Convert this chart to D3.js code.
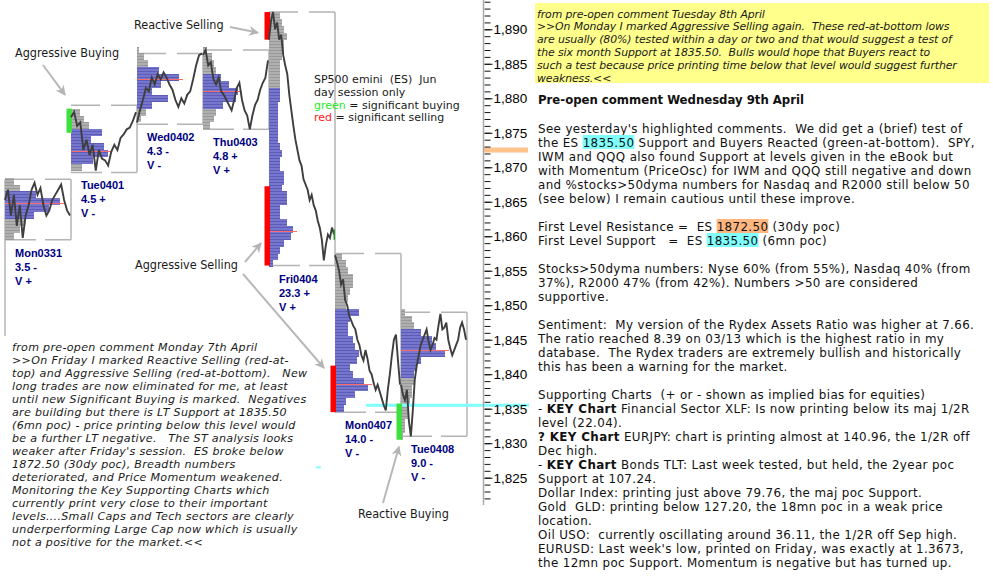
<!DOCTYPE html>
<html><head><meta charset="utf-8">
<script src="https://cdn.jsdelivr.net/npm/d3@7"></script>
<style>
body{margin:0;background:#fff;}
svg{display:block;}
text{white-space:pre;}
.ann{font-family:"DejaVu Sans Condensed","DejaVu Sans",sans-serif;font-stretch:condensed;font-size:12.5px;fill:#1a1a1a;}
.leg{font-family:"DejaVu Sans",sans-serif;font-size:11px;fill:#1a1a1a;}
.bodyt{font-family:"DejaVu Sans",sans-serif;font-size:11.9px;letter-spacing:0.36px;fill:#111;}
.ital{font-family:"DejaVu Sans",sans-serif;font-style:italic;font-size:11.1px;letter-spacing:0.3px;fill:#1a1a1a;}
.yel{font-family:"DejaVu Sans",sans-serif;font-style:italic;font-size:10.9px;letter-spacing:-0.1px;fill:#1a1a1a;}
.head{font-family:"DejaVu Sans Condensed","DejaVu Sans",sans-serif;font-stretch:condensed;font-weight:bold;font-size:13px;fill:#111;}
.dayl{font-family:"Liberation Sans",Arial,sans-serif;font-weight:bold;font-size:11px;fill:#000080;}
.axis text{font-family:"Liberation Sans",Arial,sans-serif;font-size:13.5px;fill:#000;}
</style></head><body>
<svg id="c" width="993" height="588"></svg>
<script>
// ---------------- DATA ----------------
const days = ["Mon0331","Tue0401","Wed0402","Thu0403","Fri0404","Mon0407","Tue0408"];
const rangeStat = ["3.5 -","4.5 +","4.3 -","4.8 +","23.3 +","14.0 -","9.0 -"];
const volStat = ["V +","V -","V -","V +","V +","V -","V -"];
const dayHigh = [1868.25, 1879.0, 1886.5, 1887.0, 1892.5, 1857.5, 1849.0];
const dayLow  = [1859.5, 1869.25, 1876.25, 1875.5, 1855.75, 1834.5, 1831.0];
const pocPrice = [1864.75, 1872.25, 1882.75, 1881.0, 1860.75, 1838.5, 1843.5];
const vaHigh = [1866, 1875, 1884, 1883, 1881, 1849, 1846];
const vaLow  = [1863, 1871, 1879, 1879, 1856, 1835, 1840];
// profile: TPO counts per 1-point level, from profileTop downwards
const profileTop = [1868, 1878, 1887, 1887, 1892, 1857, 1849];
const profileMon0331 = [4,7,14,25,20,13,9,7,4];
const profileTue0401 = [4,6,8,14,9,15,17,10,5];
const profileWed0402 = [1,3,5,10,19,11,7,14,7,4,2];
const profileThu0403 = [2,4,5,6,8,12,16,15,9,6,5,3];
const profileFri0404 = [5,6,7,8,7,7,6,5,5,5,5, 5,5,4,4,4,4,4,4,5,6,5,5,7,7,6,8,8,5,5,8,11,10,7,5,4,2];
const profileMon0407 = [3,5,6,8,8,7,6,5, 11,7,6,6,8,9,11,10,7,8,13,15,9,5,4];
const profileTue0408 = [2,5,6,9,14,16,20,9,7,6,6,5,5,4,3,3,2,2,1];
const profiles = [profileMon0331,profileTue0401,profileWed0402,profileThu0403,profileFri0404,profileMon0407,profileTue0408];
// intraday prices (day session)
const priceMon0331 = [1865.25,1866.75,1863,1866,1861.5,1864.5,1859.75,1863,1864.5,1866.75,1867.75,1866,1867,1864.5,1863,1863.75,1865.25,1866,1866.75,1867.5,1865.25,1863.75,1863];
const priceTue0401 = [1877.25,1878,1876,1876.5,1872.5,1874,1871.75,1873.25,1869.5,1872.5,1871.25,1871,1870.25,1872.25,1873.25,1872.5,1874.25,1874.75,1875.5,1875.75,1876.75,1878];
const priceWed0402 = [1876.5,1878.25,1879.75,1881.5,1881,1883,1882,1883.5,1882.75,1883.75,1883,1882,1881.25,1879.75,1878.75,1880,1879.25,1880.5,1881,1882.75,1884.75,1886.25,1886.5];
const priceThu0403 = [1886.25,1887,1884.75,1885.25,1882.75,1882,1883,1881,1880.5,1879.75,1879,1878.25,1879.75,1881.5,1882.25,1879.75,1878.25,1877.5,1875.5,1877.5,1879,1879.75,1881.25,1882.25,1883,1885.5];
const priceFri0404 = [1888.5,1891.25,1892.5,1890,1891,1888.5,1889.25,1886.25,1884.75,1883.5,1880.5,1878.25,1876,1874,1872.5,1871,1870.25,1868.25,1867.5,1866.75,1865.25,1866,1864.5,1863.75,1862.25,1861.25,1859.5,1856.5,1858.75,1860.25,1859.75,1861.25,1860.25];
const priceMon0407 = [1857.25,1856.25,1855,1853,1853.75,1850.75,1850,1848.5,1847.75,1847,1846.5,1845,1844.25,1842.75,1842,1843.5,1842.25,1840.5,1840,1838.75,1837.75,1838.5,1837.5,1836.5,1835.5,1834.75,1837.75,1840,1842.75,1845,1845.75,1842,1838.5];
const priceTue0408 = [1838.5,1837,1836.25,1837.75,1833.25,1831,1834.75,1839.25,1841.25,1842.75,1844.25,1845,1845.75,1846.5,1844.75,1843.5,1844.25,1845.25,1845,1847,1848.75,1846.5,1846.75,1847.5,1845,1843.75,1842.75,1843.5,1844.25,1845,1846.75,1847.5,1846.5,1845];
const prices = [priceMon0331,priceTue0401,priceWed0402,priceThu0403,priceFri0404,priceMon0407,priceTue0408];
// significant activity marks
const sigDay = [1, 4, 4, 5, 6];
const sigTop = [1878.5, 1892.5, 1867.25, 1841.25, 1835.75];
const sigBottom = [1875.0, 1888.5, 1855.75, 1834.5, 1830.5];
const sigType = ["buy","sell","sell","sell","buy"];
// levels
const resistanceLevel = 1872.5;
const supportLevel = 1835.5;
const yTicksMinor = d3.range(1822, 1895, 1);
const yTicksMajor = d3.range(1825, 1895, 5);

const legendLines = [[["SP500 emini  (ES)  Jun","#1a1a1a"]],[["day session only","#1a1a1a"]],[["green","#22ee22"],[" = significant buying","#1a1a1a"]],[["red","#ff2020"],[" = significant selling","#1a1a1a"]]];
const leftComment = ["from pre-open comment Monday 7th April",
">>On Friday I marked Reactive Selling (red-at-",
"top) and Aggressive Selling (red-at-bottom).   New",
"long trades are now eliminated for me, at least",
"until new Significant Buying is marked.  Negatives",
"are building but there is LT Support at 1835.50",
"(6mn poc) - price printing below this level would",
"be a further LT negative.   The ST analysis looks",
"weaker after Friday's session.  ES broke below",
"1872.50 (30dy poc), Breadth numbers",
"deteriorated, and Price Momentum weakened.",
"Monitoring the Key Supporting Charts which",
"currently print very close to their important",
"levels....Small Caps and Tech sectors are clearly",
"underperforming Large Cap now which is usually",
"not a positive for the market.<<"];
const yellowComment = ["from pre-open comment Tuesday 8th April",
">>On Monday I marked Aggressive Selling again.  These red-at-bottom lows",
"are usually (80%) tested within a day or two and that would suggest a test of",
"the six month Support at 1835.50.  Bulls would hope that Buyers react to",
"such a test because price printing time below that level would suggest further",
"weakness.<<"];
const heading = "Pre-open comment Wednesday 9th April";
const commentLines = [
 [["See yesterday's highlighted comments.  We did get a (brief) test of"]],
 [["the ES "],["1835.50","hc"],[" Support and Buyers Reacted (green-at-bottom).  SPY,"]],
 [["IWM and QQQ also found Support at levels given in the eBook but"]],
 [["with Momentum (PriceOsc) for IWM and QQQ still negative and down"]],
 [["and %stocks>50dyma numbers for Nasdaq and R2000 still below 50"]],
 [["(see below) I remain cautious until these improve."]],
 [],
 [["First Level Resistance =  ES "],["1872.50","ho"],[" (30dy poc)"]],
 [["First Level Support   =  ES "],["1835.50","hc"],[" (6mn poc)"]],
 [],
 [["Stocks>50dyma numbers: Nyse 60% (from 55%), Nasdaq 40% (from"]],
 [["37%), R2000 47% (from 42%). Numbers >50 are considered"]],
 [["supportive."]],
 [],
 [["Sentiment:  My version of the Rydex Assets Ratio was higher at 7.66."]],
 [["The ratio reached 8.39 on 03/13 which is the highest ratio in my"]],
 [["database.  The Rydex traders are extremely bullish and historically"]],
 [["this has been a warning for the market."]],
 [],
 [["Supporting Charts  (+ or - shown as implied bias for equities)"]],
 [["- "],["KEY Chart","b"],[" Financial Sector XLF: Is now printing below its maj 1/2R"]],
 [["level (22.04)."]],
 [["? KEY Chart","b"],[" EURJPY: chart is printing almost at 140.96, the 1/2R off"]],
 [["Dec high."]],
 [["- "],["KEY Chart","b"],[" Bonds TLT: Last week tested, but held, the 2year poc"]],
 [["Support at 107.24."]],
 [["Dollar Index: printing just above 79.76, the maj poc Support."]],
 [["Gold  GLD: printing below 127.20, the 18mn poc in a weak price"]],
 [["location."]],
 [["Oil USO:  currently oscillating around 36.11, the 1/2R off Sep high."]],
 [["EURUSD: Last week's low, printed on Friday, was exactly at 1.3673,"]],
 [["the 12mn poc Support. Momentum is negative but has turned up."]]
];

// ---------------- SCALES ----------------
const svg = d3.select("#c");
const x = d3.scaleLinear().domain([0, 7]).range([5, 467]);
const y = d3.scaleLinear().domain([1825, 1890]).range([477.7, 29.3]);
const w = d3.scaleLinear().domain([0, 10]).range([0, 22]);

const defs = svg.append("defs");
function stripe(id, c1, c2){
  const p = defs.append("pattern").attr("id", id).attr("patternUnits","userSpaceOnUse").attr("width",6).attr("height",3);
  p.append("rect").attr("width",6).attr("height",3).attr("fill",c1);
  p.append("rect").attr("y",2).attr("width",6).attr("height",1).attr("fill",c2);
}
stripe("blueS", "#7676cc", "#5c5cb8");
stripe("grayS", "#b0b0b0", "#989898");
const mk = defs.append("marker").attr("id","arr").attr("markerUnits","userSpaceOnUse")
  .attr("markerWidth",12).attr("markerHeight",12).attr("refX",9).attr("refY",5).attr("orient","auto");
mk.append("path").attr("d","M0,0 L10,5 L0,10 L3,5 Z").attr("fill","#b4b4b4");

// yellow box
svg.append("rect").attr("x",535).attr("y",3).attr("width",454).attr("height",80).attr("fill","#ffff8c");

// resistance band on axis
svg.append("rect").attr("x",483).attr("y",y(resistanceLevel)-2.5).attr("width",45).attr("height",5).attr("fill","#ffc38c");

// day boxes
const boxes = svg.append("g");
days.forEach((d,i)=>{
  const x0 = x(i), x1 = x(i+1);
  boxes.append("line").attr("x1",x0).attr("x2",x1).attr("y1",y(dayHigh[i])).attr("y2",y(dayHigh[i]))
    .attr("stroke","#b4b4b4").attr("stroke-width",1.5).attr("stroke-dasharray","29,11");
  boxes.append("line").attr("x1",x0).attr("x2",x1).attr("y1",y(dayLow[i])).attr("y2",y(dayLow[i]))
    .attr("stroke","#b4b4b4").attr("stroke-width",1.5).attr("stroke-dasharray","31,9");
  boxes.append("line").attr("x1",x1).attr("x2",x1).attr("y1",y(dayHigh[i])).attr("y2",y(dayLow[i]))
    .attr("stroke","#b4b4b4").attr("stroke-width",1.5);
});
boxes.append("line").attr("x1",x(0)).attr("x2",x(0)).attr("y1",y(dayHigh[0])).attr("y2",336)
  .attr("stroke","#b4b4b4").attr("stroke-width",1.5);

// profiles
const prof = svg.append("g").attr("shape-rendering","crispEdges");
profiles.forEach((counts,i)=>{
  counts.forEach((c,k)=>{
    const p = profileTop[i]-k;
    prof.append("rect").attr("x",x(i)).attr("y",y(p+0.5)).attr("width",w(c)).attr("height",y(p-0.5)-y(p+0.5))
      .attr("fill",(p<=vaHigh[i] && p>=vaLow[i]) ? "url(#blueS)" : "url(#grayS)");
  });
  prof.append("line").attr("x1",x(i)).attr("x2",x(i)+w(d3.max(counts))+4)
    .attr("y1",y(pocPrice[i])).attr("y2",y(pocPrice[i])).attr("stroke","#ff6a6a").attr("stroke-width",1);
});

// support line
svg.append("rect").attr("x",x(5.47)).attr("y",y(supportLevel)-1.5).attr("width",529-x(5.47)).attr("height",3).attr("fill","#80ffff");
svg.append("rect").attr("x",x(4.71)).attr("y",y(1826.5)-1).attr("width",5).attr("height",2).attr("fill","#80ffff");

// significant bars
sigDay.forEach((d,k)=>{
  svg.append("rect").attr("x",x(d)-4.5).attr("width",5.5).attr("y",y(sigTop[k])).attr("height",y(sigBottom[k])-y(sigTop[k]))
    .attr("fill", sigType[k]==="buy" ? "#3ee03e" : "#ff0000");
});

// price
const line = d3.line().x(d=>d[0]).y(d=>y(d[1]));
prices.forEach((arr,i)=>{
  const pts = arr.map((p,j)=>[x(i + 0.985*j/(arr.length-1)), p]);
  svg.append("path").attr("d",line(pts)).attr("fill","none").attr("stroke","#3e3e3e").attr("stroke-width",1.9).attr("stroke-linejoin","miter");
});
svg.append("rect").attr("x",x(5)-1.5).attr("y",y(1861)).attr("width",1.5).attr("height",y(1859.5)-y(1861)).attr("fill","#2a9a2a");

// day labels
days.forEach((d,i)=>{
  const t = svg.append("text").attr("class","dayl");
  [d, rangeStat[i], volStat[i]].forEach((s,k)=>{
    t.append("tspan").attr("x",x(i)+10).attr("y",y(dayLow[i])+17+14*k).text(s);
  });
});

// axis
const ax = svg.append("g").attr("class","axis").attr("transform","translate(484.5,0)");
ax.call(d3.axisRight(y).tickValues(yTicksMinor).tickSize(6).tickFormat(""));
ax.call(g=>g.select(".domain").remove());
const ax2 = svg.append("g").attr("class","axis").attr("transform","translate(484.5,0)");
ax2.call(d3.axisRight(y).tickValues(yTicksMajor).tickSize(8).tickPadding(1).tickFormat(d3.format(",")));
ax2.call(g=>g.select(".domain").remove());
svg.selectAll(".axis .tick line").attr("stroke","#111");
svg.append("line").attr("x1",483.5).attr("x2",483.5).attr("y1",0).attr("y2",505).attr("stroke","#a8a8a8").attr("stroke-width",1.5);

// annotations
function ann(txt, tx, ty, sx, sy, ex, ey){
  svg.append("text").attr("class","ann").attr("x",tx).attr("y",ty).text(txt);
  svg.append("line").attr("x1",sx).attr("y1",sy).attr("x2",ex).attr("y2",ey)
    .attr("stroke","#b8b8b8").attr("stroke-width",2).attr("marker-end","url(#arr)");
}
ann("Reactive Selling", 134, 28.5, 230, 27, x(4)-11, y(1889.5));
ann("Aggressive Buying", 15, 56.5, 43, 65, x(1)-6, y(1880.5));
ann("Aggressive Selling", 135, 268.5, 245, 262, x(4)-8, y(1859));
svg.append("line").attr("x1",243).attr("y1",274).attr("x2",x(5)-11).attr("y2",y(1840.9))
  .attr("stroke","#b8b8b8").attr("stroke-width",2).attr("marker-end","url(#arr)");
ann("Reactive Buying", 358, 518, 383, 503, x(6)-2, y(1829.5));

// legend
legendLines.forEach((segs,k)=>{
  const t = svg.append("text").attr("class","leg").attr("x",314).attr("y",83+12.8*k);
  segs.forEach(s=>t.append("tspan").attr("fill",s[1]).text(s[0]));
});

// left comment
leftComment.forEach((s,k)=>{
  svg.append("text").attr("class","ital").attr("x",12).attr("y",351+13*k).text(s);
});
// yellow comment
yellowComment.forEach((s,k)=>{
  svg.append("text").attr("class","yel").attr("x",537).attr("y",17.5+12.8*k).text(s);
});
svg.append("text").attr("class","head").attr("x",538).attr("y",104).text(heading);

const rt = svg.append("g");
commentLines.forEach((segs,k)=>{
  if(!segs.length) return;
  const yb = 132.5 + 14*k;
  const t = rt.append("text").attr("class","bodyt").attr("x",538).attr("y",yb);
  segs.forEach(s=>t.append("tspan").attr("font-weight", s[1]==="b" ? "bold" : null).text(s[0]));
  let idx = 0;
  segs.forEach(s=>{
    if(s[1]==="hc" || s[1]==="ho"){
      const n = t.node();
      const a = n.getStartPositionOfChar(idx).x;
      const b = n.getEndPositionOfChar(idx + s[0].length - 1).x;
      rt.insert("rect", ()=>n).attr("x",a).attr("y",yb-11.5).attr("width",b-a).attr("height",14)
        .attr("fill", s[1]==="hc" ? "#80ffff" : "#ffb680");
    }
    idx += s[0].length;
  });
});
</script></body></html>
